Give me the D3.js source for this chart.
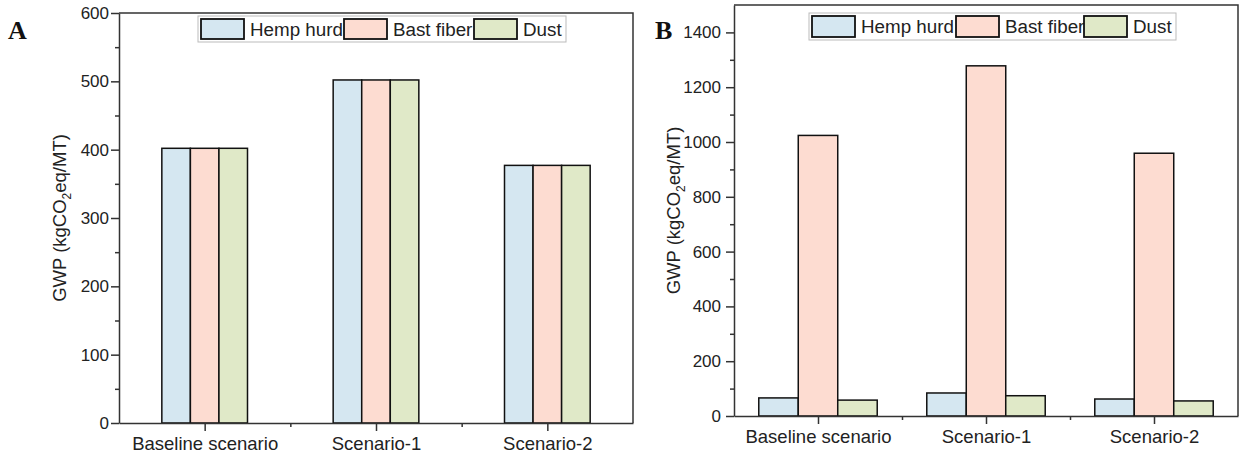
<!DOCTYPE html>
<html>
<head>
<meta charset="utf-8">
<script src="https://cdn.jsdelivr.net/npm/d3@7"></script>
<style>
  body { margin: 0; background: #fff; }
  svg { display: block; font-family: "Liberation Sans", Arial, sans-serif; }
  .domain { stroke: #333; stroke-width: 1.5; }
  .tick line { stroke: #333; stroke-width: 1.5; }
</style>
</head>
<body>
<svg></svg>
<script>
const categories = ["Baseline scenario", "Scenario-1", "Scenario-2"];
const seriesNames = ["Hemp hurd", "Bast fiber", "Dust"];
const colors = ["#d5e7f1", "#fddcd1", "#e0e9c8"];

// panel A values (kgCO2eq/MT)
const hempA = [402, 502, 377];
const bastA = [402, 502, 377];
const dustA = [402, 502, 377];
const yTicksA = [0, 100, 200, 300, 400, 500, 600];

// panel B values
const hempB = [66, 84, 62];
const bastB = [1024, 1278, 959];
const dustB = [58, 74, 55];
const yTicksB = [0, 200, 400, 600, 800, 1000, 1200, 1400];

const svg = d3.select("svg")
  .attr("width", 1241)
  .attr("height", 457);

function drawPanel(cfg) {
  const g = svg.append("g");
  const x = d3.scaleLinear().domain([0.5, 3.5]).range([cfg.left, cfg.right]);
  const y = d3.scaleLinear().domain([0, cfg.yMax]).range([cfg.bottom, cfg.top]);
  const bw = cfg.barW;

  const rows = [];
  cfg.series.forEach((vals, s) => {
    vals.forEach((v, i) => rows.push({ i: i, s: s, v: v }));
  });

  g.selectAll("rect.bar")
    .data(rows)
    .enter()
    .append("rect")
    .attr("class", "bar")
    .attr("x", (d) => x(d.i + 1 + (d.s - 1.5) * bw))
    .attr("width", (d) => x(bw) - x(0))
    .attr("y", (d) => y(d.v))
    .attr("height", (d) => y(0) - y(d.v))
    .attr("fill", (d) => colors[d.s])
    .attr("stroke", "#111")
    .attr("stroke-width", 1.5);

  // frame top/right
  g.append("path")
    .attr("d", `M${x(0.5)},${y(cfg.yMax)}H${x(3.5)}V${y(0)}`)
    .attr("fill", "none")
    .attr("stroke", "#333")
    .attr("stroke-width", 1.5);

  // y axis
  const yMinor = d3.range(cfg.minorStep, cfg.yMax, cfg.minorStep).filter((v) => !cfg.yTicks.includes(v));
  g.append("g")
    .attr("transform", `translate(${cfg.left},0)`)
    .call(d3.axisLeft(y).tickValues(yMinor).tickSize(4).tickFormat(""))
    .call((a) => a.select(".domain").remove());
  g.append("g")
    .attr("transform", `translate(${cfg.left},0)`)
    .call(d3.axisLeft(y).tickValues(cfg.yTicks).tickSize(8).tickPadding(cfg.yPad).tickSizeOuter(0)
      .tickFormat(d3.format("d")))
    .call((a) => a.selectAll("text").attr("font-size", 17).attr("fill", "#222").attr("font-family", null));

  // x axis
  g.append("g")
    .attr("transform", `translate(0,${cfg.bottom})`)
    .call(d3.axisBottom(x).tickValues([1.5, 2.5]).tickSize(4).tickFormat(""))
    .call((a) => a.select(".domain").remove());
  g.append("g")
    .attr("transform", `translate(0,${cfg.bottom})`)
    .call(d3.axisBottom(x).tickValues([1, 2, 3]).tickSize(8).tickPadding(6).tickSizeOuter(0)
      .tickFormat((d) => categories[d - 1]))
    .call((a) => a.selectAll("text").attr("font-size", 18.5).attr("fill", "#222").attr("font-family", null));

  // y title
  const t = g.append("text")
    .attr("transform", `translate(${cfg.titleX},${(cfg.top + cfg.bottom) / 2}) rotate(-90)`)
    .attr("text-anchor", "middle")
    .attr("font-size", 18.5)
    .attr("fill", "#222");
  t.append("tspan").text("GWP (kgCO");
  t.append("tspan").text("2").attr("font-size", 12).attr("dy", 5);
  t.append("tspan").text("eq/MT)").attr("dy", -5);

  // legend
  const lg = g.append("g");
  lg.append("rect")
    .attr("x", cfg.legX).attr("y", cfg.legY)
    .attr("width", cfg.legW).attr("height", cfg.legH)
    .attr("fill", "#fff").attr("stroke", "#bbb").attr("stroke-width", 1);
  cfg.legItems.forEach((lx, k) => {
    lg.append("rect")
      .attr("x", lx).attr("y", cfg.legY + 3)
      .attr("width", 43).attr("height", cfg.legH - 6)
      .attr("fill", colors[k]).attr("stroke", "#111").attr("stroke-width", 1.8);
    lg.append("text")
      .attr("x", lx + 49).attr("y", cfg.legY + cfg.legH / 2 + 6.5)
      .attr("font-size", 18.8).attr("fill", "#222")
      .text(seriesNames[k]);
  });

  // panel letter
  svg.append("text")
    .attr("x", cfg.letterX).attr("y", 39)
    .attr("font-family", "Liberation Serif, Times New Roman, serif")
    .attr("font-weight", "bold").attr("font-size", 26)
    .attr("fill", "#111")
    .text(cfg.letter);
}

drawPanel({
  left: 119, right: 633, top: 13, bottom: 423, yMax: 600,
  yTicks: yTicksA, minorStep: 50, yPad: 2, barW: 1 / 6,
  series: [hempA, bastA, dustA], titleX: 66,
  legX: 198, legY: 16, legW: 368, legH: 26, legItems: [201, 344, 474],
  letter: "A", letterX: 8
});

drawPanel({
  left: 734, right: 1238, top: 5, bottom: 416, yMax: 1500,
  yTicks: yTicksB, minorStep: 100, yPad: 5, barW: 0.235,
  series: [hempB, bastB, dustB], titleX: 680,
  legX: 809, legY: 13, legW: 367, legH: 27, legItems: [812, 956, 1084],
  letter: "B", letterX: 655
});
</script>
</body>
</html>
